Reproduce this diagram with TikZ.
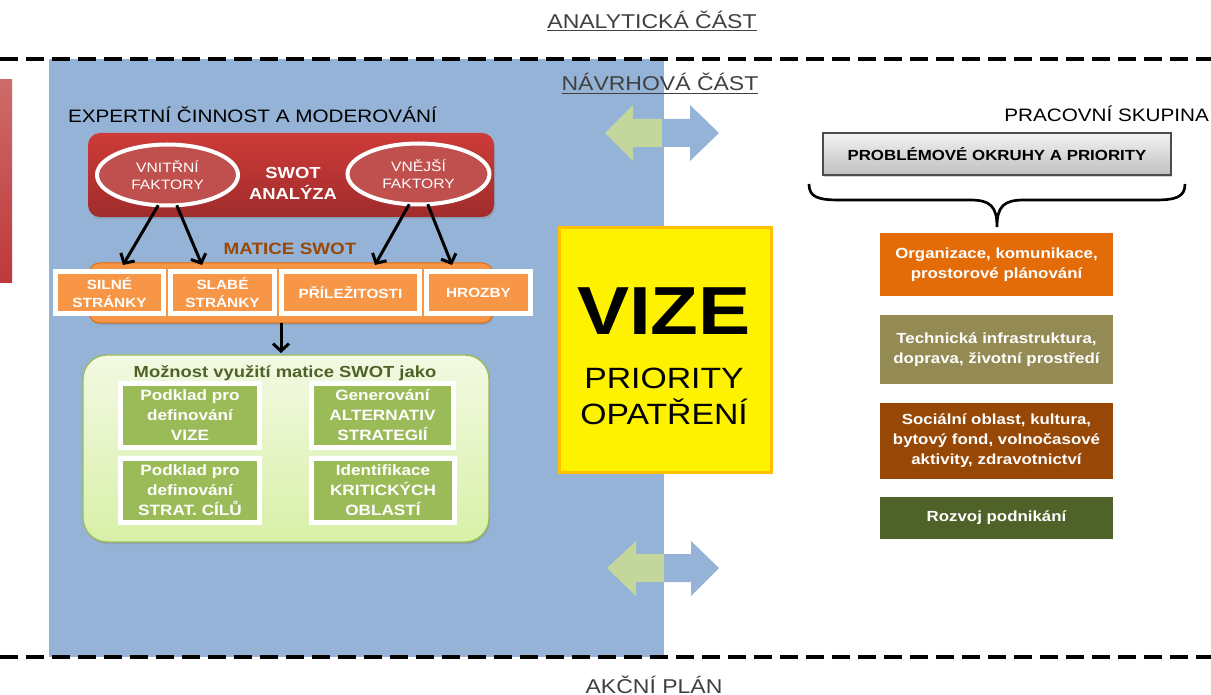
\documentclass[tikz,border=0pt]{standalone}
\usepackage{fontspec}
\setmainfont{Liberation Sans}[FakeStretch=1.15]
\usetikzlibrary{shapes.geometric,fit,calc,arrows.meta,shadows}
\definecolor{panelblue}{HTML}{95B3D7}
\definecolor{arrgreen}{HTML}{C3D69B}
\definecolor{stripTop}{HTML}{CE6B6A}
\definecolor{stripBot}{HTML}{BE383B}
\definecolor{redTop}{HTML}{CD3B38}
\definecolor{redBot}{HTML}{A02C2C}
\definecolor{ellred}{HTML}{C0504D}
\definecolor{orangeF}{HTML}{F79646}
\definecolor{orangeD}{HTML}{E46C0A}
\definecolor{maticeC}{HTML}{984807}
\definecolor{greenF}{HTML}{9BBB59}
\definecolor{oliveD}{HTML}{4F6228}
\definecolor{lgTop}{HTML}{F3F9E3}
\definecolor{lgBot}{HTML}{D8F0A8}
\definecolor{orgbox}{HTML}{E36C09}
\definecolor{techbox}{HTML}{948A54}
\definecolor{socbox}{HTML}{974806}
\definecolor{rozbox}{HTML}{4F6228}
\definecolor{yellowB}{HTML}{FFC000}
\definecolor{titlegray}{HTML}{404040}
\begin{document}
\begin{tikzpicture}[x=0.75pt,y=-0.75pt,
  every node/.style={inner sep=0pt, outer sep=0pt},
  softshadow/.style={drop shadow={opacity=0.35, shadow xshift=0.75pt, shadow yshift=-1.5pt}},
  framebox/.style={rectangle, draw=white, line width=3pt, text=white, align=center, softshadow},
  swotcell/.style={framebox, line width=3.75pt, fill=orangeF, minimum height=31.5pt, font=\bfseries\fontsize{10}{13.3}\selectfont},
  usecell/.style={framebox, line width=3.75pt, fill=greenF, minimum height=48pt, font=\bfseries\fontsize{11.2}{15}\selectfont},
  topic/.style={framebox, minimum width=177.75pt, font=\bfseries\fontsize{11}{15}\selectfont},
  factor/.style={ellipse, draw=white, line width=3pt, fill=ellred, minimum height=45.75pt, text=white, align=center, font=\fontsize{10.2}{12.75}\selectfont},
  arr/.style={line width=2.25pt, -{Straight Barb[length=5.5pt,width=12pt]}},
  sectiontitle/.style={text=titlegray, font=\fontsize{15}{18}\selectfont},
  grouptitle/.style={font=\fontsize{13.5}{16}\selectfont},
  sepline/.style={line width=3pt, dash pattern=on 13.5pt off 6pt}
]
\useasboundingbox (0,0) rectangle (1211,695);

% blue design panel and left strip
\fill[panelblue] (49,59) rectangle (664,657);
\fill[top color=stripTop, bottom color=stripBot] (0,80) rectangle (12,283);

% double arrows
\fill[arrgreen] (605,133) -- (633,105) -- (633,119) -- (662,119) -- (662,147) -- (633,147) -- (633,161) -- cycle;
\fill[panelblue] (662,119) -- (690,119) -- (690,105) -- (719,133) -- (690,161) -- (690,147) -- (662,147) -- cycle;
\fill[arrgreen] (607,568) -- (636,541) -- (636,554) -- (664,554) -- (664,582) -- (636,582) -- (636,596) -- cycle;
\fill[panelblue] (664,554) -- (691,554) -- (691,541) -- (719,568) -- (691,596) -- (691,582) -- (664,582) -- cycle;

% separators
\draw[sepline] (0,59) -- (1211,59);
\draw[sepline] (0,657) -- (1211,657);

% section titles
\node[sectiontitle, anchor=base] (analyt) at (652,28.5) {\underline{ANALYTICKÁ ČÁST}};
\node[sectiontitle, anchor=base] (navrh) at (660,91) {\underline{NÁVRHOVÁ ČÁST}};
\node[sectiontitle, anchor=base] (akcni) at (654,693) {AKČNÍ PLÁN};

\node[grouptitle, anchor=base west] (expert) at (68,123) {EXPERTNÍ ČINNOST A MODEROVÁNÍ};
\node[grouptitle, anchor=base east] (pracov) at (1209,122) {PRACOVNÍ SKUPINA};

% SWOT analysis block
\node[fit={(88,133)(494,217)}, rounded corners=9pt, top color=redTop, bottom color=redBot, softshadow] (swot) {};
\node[factor, minimum width=105.75pt] (vn) at (167.5,175) {VNITŘNÍ\\FAKTORY};
\node[factor, minimum width=106.5pt] (ve) at (418.5,174) {VNĚJŠÍ\\FAKTORY};
\node[text=white, align=center, font=\bfseries\fontsize{12}{15.75}\selectfont] (swottxt) at (293,183.5) {SWOT\\ANALÝZA};

% SWOT matrix
\node[text=maticeC, anchor=base, font=\bfseries\fontsize{12.3}{15}\selectfont] (matice) at (290,255) {MATICE SWOT};
\node[fit={(89,263)(493,323)}, rounded corners=8pt, fill=orangeF, draw=orangeD, line width=0.75pt, softshadow] (matbar) {};
\node[swotcell, minimum width=81pt] (silne) at (109.5,292.5) {SILNÉ\\STRÁNKY};
\node[swotcell, minimum width=78pt] (slabe) at (222.5,292.5) {SLABÉ\\STRÁNKY};
\node[swotcell, minimum width=103.5pt] (prilez) at (350.5,292.5) {PŘÍLEŽITOSTI};
\node[swotcell, minimum width=78pt] (hrozby) at (478.5,292.5) {HROZBY};

\draw[arr] (vn.253) -- ($(silne.north)+(13.5,-6.5)$);
\draw[arr] (vn.287) -- ($(slabe.north)+(-20.5,-6.5)$);
\draw[arr] (ve.253) -- ($(prilez.north)+(24.5,-6.5)$);
\draw[arr] (ve.287) -- ($(hrozby.north)+(-26.5,-6.5)$);

% usage block
\node[fit={(83,355)(489,542)}, rounded corners=18pt, top color=lgTop, bottom color=lgBot, draw=greenF, line width=1pt, softshadow] (usage) {};
\draw[arr] ($(matbar.south)+(-10,0)$) -- ($(usage.north)+(-5,-2)$);
\node[text=oliveD, anchor=base, font=\bfseries\fontsize{12}{15}\selectfont] (usetitle) at (285,378) {Možnost využití matice SWOT jako};
\node[usecell, minimum width=104.25pt] (ua) at (190,415.5) {Podklad pro\\definování\\VIZE};
\node[usecell, minimum width=106.5pt] (ub) at (382.5,415.5) {Generování\\ALTERNATIV\\STRATEGIÍ};
\node[usecell, minimum width=104.25pt] (uc) at (190,490.5) {Podklad pro\\definování\\STRAT. CÍLŮ};
\node[usecell, minimum width=107.25pt] (ud) at (383,490.5) {Identifikace\\KRITICKÝCH\\OBLASTÍ};

% vision box
\node[fit={(559,228)(771,472)}, fill=yellow, draw=yellowB, line width=2.25pt] (vize) {};
\node[anchor=base, font=\bfseries\fontsize{51}{55}\selectfont] (vizetxt) at (664,335) {VIZE};
\node[anchor=base, font=\fontsize{22}{26}\selectfont] (prio) at (664,388) {PRIORITY};
\node[anchor=base, font=\fontsize{22}{26}\selectfont] (opat) at (664,425) {OPATŘENÍ};

% working group
\node[rectangle, minimum width=261pt, minimum height=31.5pt, top color=white!95!black, bottom color=white!75!black, draw=white!30!black, line width=1pt, softshadow, font=\bfseries\fontsize{11}{13}\selectfont] (prob) at (997,154) {PROBLÉMOVÉ OKRUHY A PRIORITY};
\draw[line width=2pt] (809,184) .. controls (809,197) and (818,200) .. (839,200) -- (970,200) .. controls (990,200) and (997,206) .. (997,227) .. controls (997,206) and (1004,200) .. (1024,200) -- (1155,200) .. controls (1176,200) and (1185,197) .. (1185,184);

\node[topic, fill=orgbox, minimum height=50.25pt] (org) at (996.5,264.5) {Organizace, komunikace,\\prostorové plánování};
\node[topic, fill=techbox, minimum height=54.75pt] (tech) at (996.5,349.5) {Technická infrastruktura,\\doprava, životní prostředí};
\node[topic, fill=socbox, minimum height=60pt] (soc) at (996.5,441) {Sociální oblast, kultura,\\bytový fond, volnočasové\\aktivity, zdravotnictví};
\node[topic, fill=rozbox, minimum height=34.5pt] (roz) at (996.5,518) {Rozvoj podnikání};
\end{tikzpicture}
\end{document}
